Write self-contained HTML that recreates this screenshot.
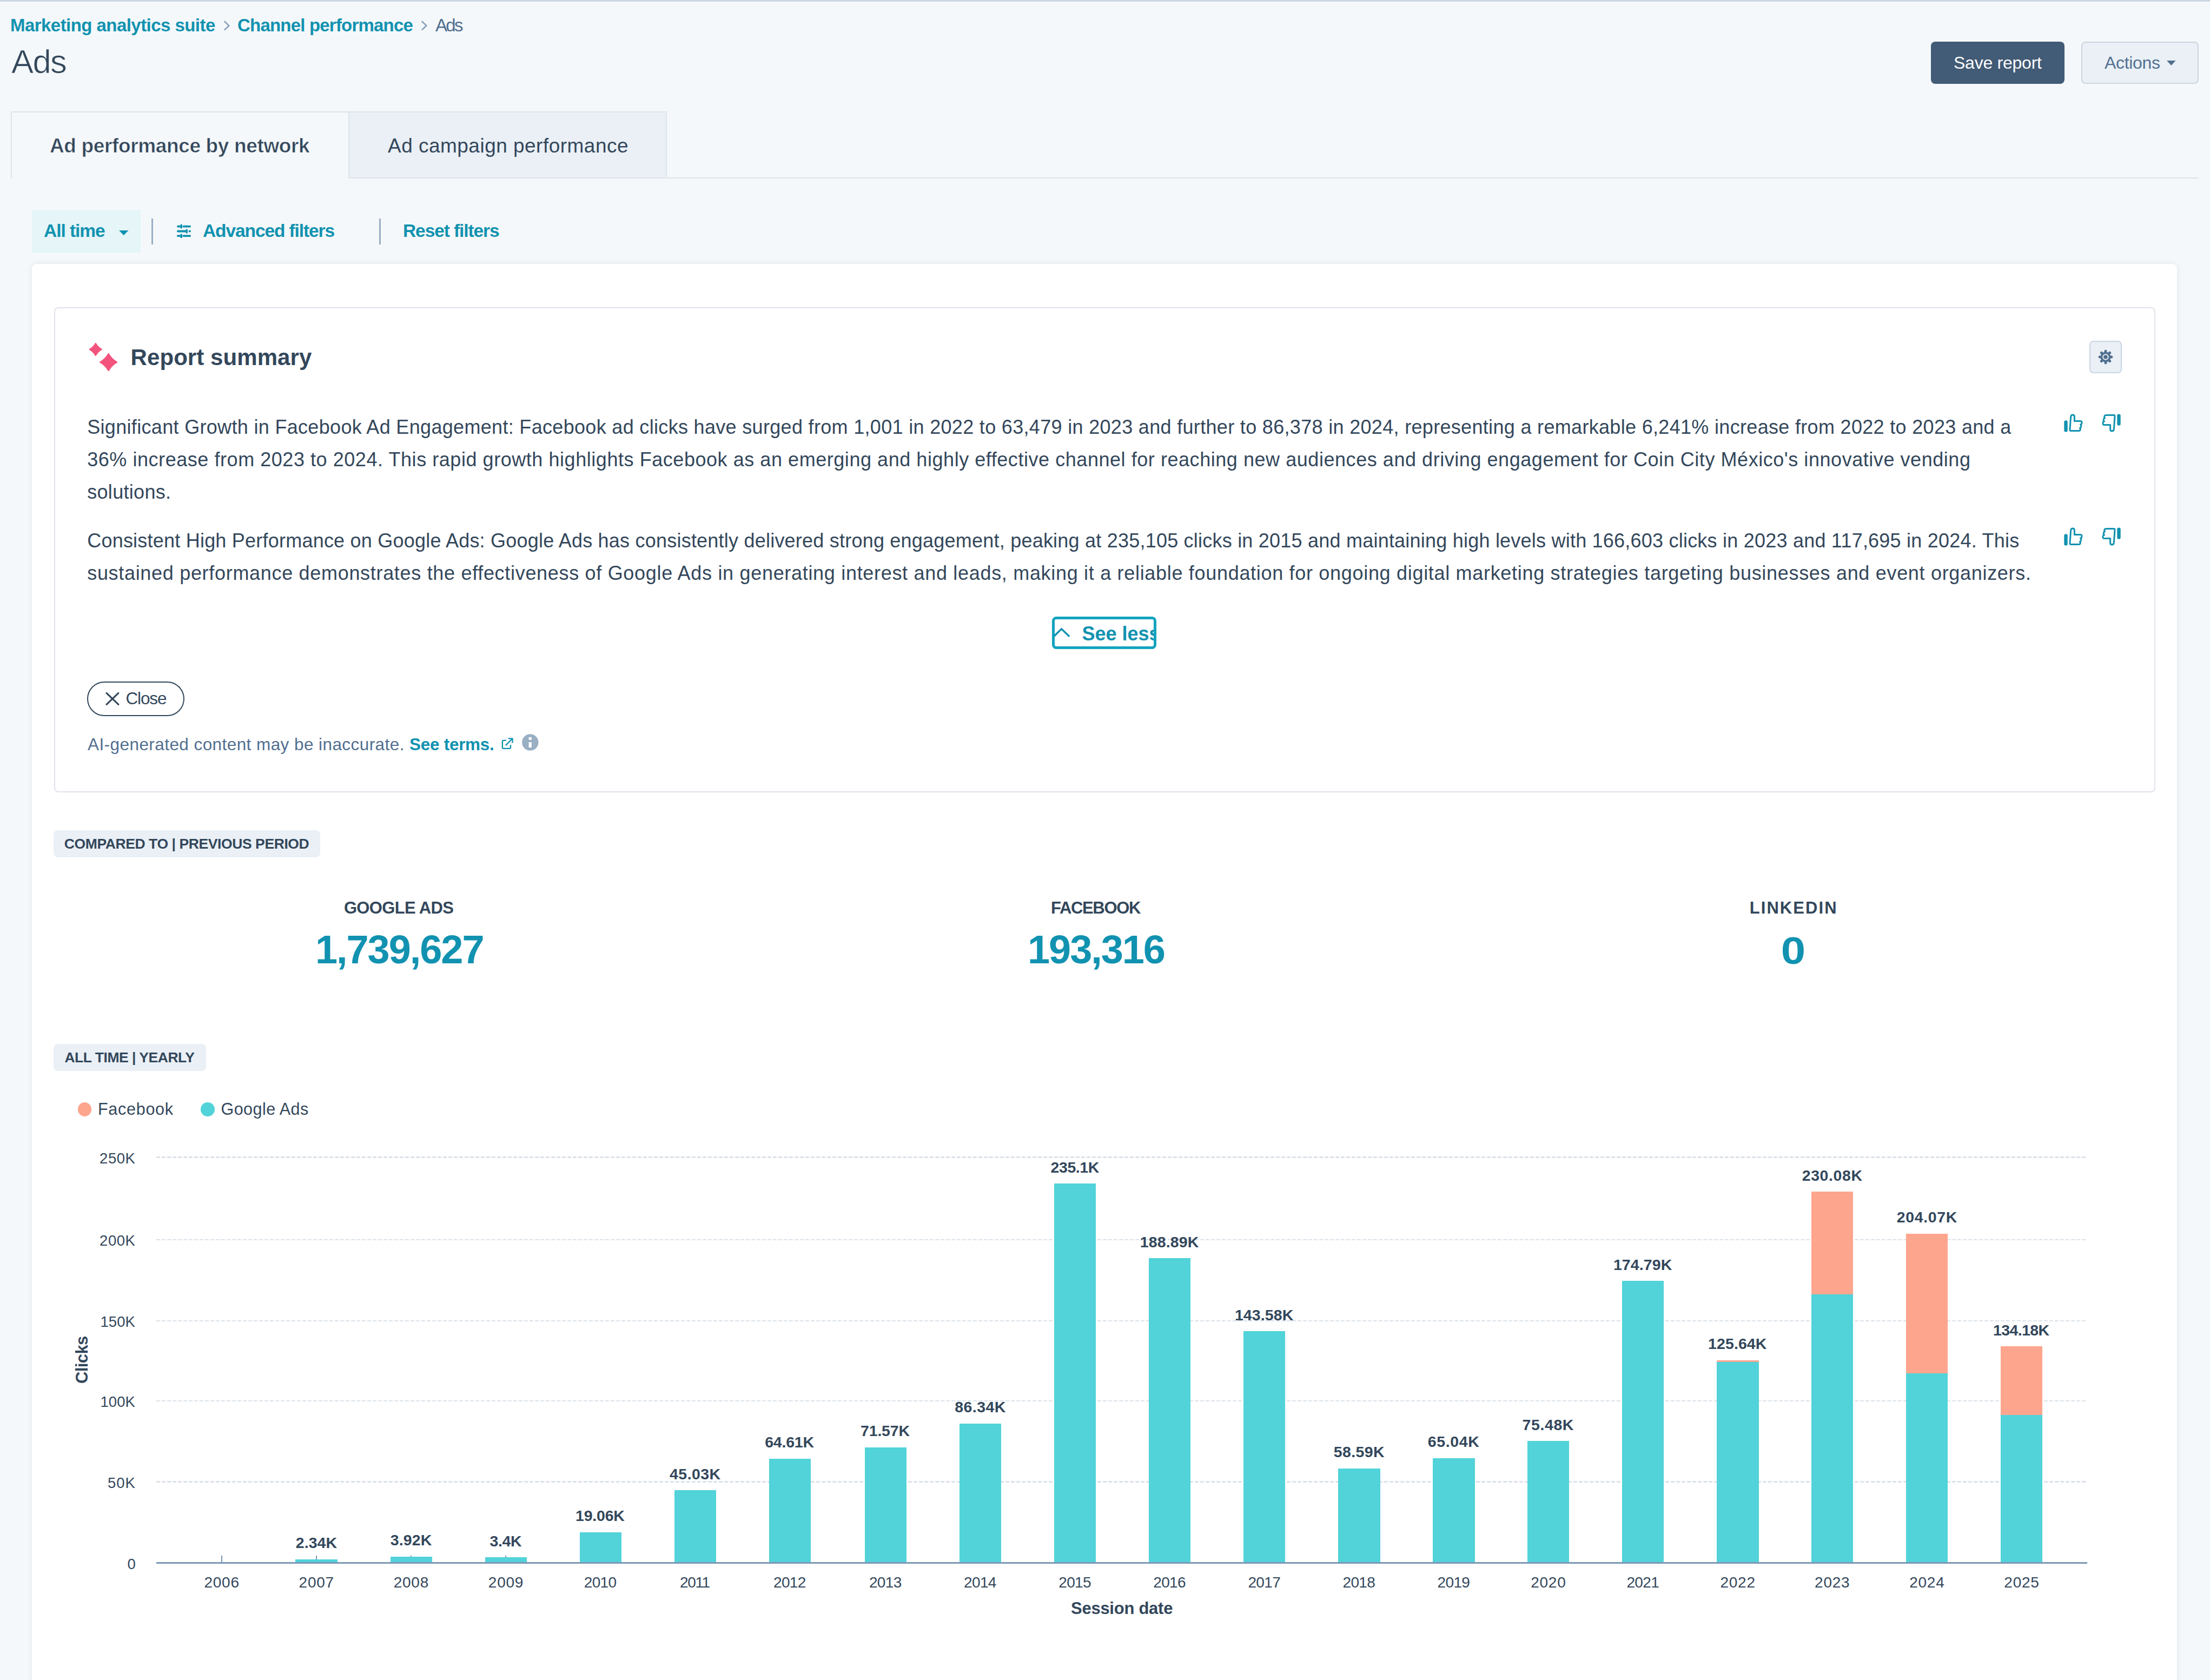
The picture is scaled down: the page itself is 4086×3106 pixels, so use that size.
<!DOCTYPE html>
<html><head><meta charset="utf-8">
<style>
html,body{margin:0;padding:0;}
body{width:4086px;height:3106px;overflow:hidden;position:relative;background:#f5f8fa;font-family:"Liberation Sans",sans-serif;}
.a{position:absolute;box-sizing:border-box;}
.t{position:absolute;white-space:nowrap;line-height:1;font-family:"Liberation Sans",sans-serif;}
.grid{position:absolute;left:289px;width:3570px;height:2.2px;background:repeating-linear-gradient(to right,#dbe2ea 0,#dbe2ea 7.2px,transparent 7.2px,transparent 10px);}
.tick{position:absolute;top:2875.5px;width:2px;height:14px;background:#7c98b6;}
.bar{position:absolute;width:77.4px;}
.g{background:#51d3d9;}
.f{background:#fea58e;}
svg{position:absolute;overflow:visible;}
@media (min-width:1990px) and (max-width:2100px){html{zoom:0.5;}}
</style></head><body>
<!-- top line -->
<div class="a" style="left:0;top:0;width:4086px;height:2.5px;background:#cbd6e2"></div>
<!-- breadcrumb chevrons -->
<svg style="left:414px;top:39px" width="11" height="17" viewBox="0 0 11 17"><polyline points="1.4,0.8 9.4,8.4 1.4,16" fill="none" stroke="#7c98b6" stroke-width="2.3" stroke-linecap="round" stroke-linejoin="miter"/></svg>
<svg style="left:779px;top:39px" width="11" height="17" viewBox="0 0 11 17"><polyline points="1.4,0.8 9.4,8.4 1.4,16" fill="none" stroke="#7c98b6" stroke-width="2.3" stroke-linecap="round" stroke-linejoin="miter"/></svg>
<!-- buttons -->
<div class="a" style="left:3570px;top:77px;width:247px;height:78px;background:#425b76;border-radius:8px"></div>
<div class="a" style="left:3848px;top:77px;width:217px;height:78px;background:#eaf0f6;border:2px solid #cbd6e2;border-radius:8px"></div>
<svg style="left:4006px;top:112px" width="17" height="9" viewBox="0 0 17 9"><polygon points="0,0 16.6,0 8.3,9" fill="#516f90"/></svg>
<!-- tabs -->
<div class="a" style="left:19.5px;top:205.5px;width:626px;height:124px;border-top:2px solid #dfe3eb;border-left:2px solid #dfe3eb"></div>
<div class="a" style="left:643.5px;top:205.5px;width:589px;height:124px;background:#eaf0f6;border:2px solid #dfe3eb"></div>
<div class="a" style="left:1231px;top:327.5px;width:2834px;height:2px;background:#dfe3eb"></div>
<!-- filter bar -->
<div class="a" style="left:59px;top:388px;width:201px;height:79px;background:#e5f5f8"></div>
<svg style="left:220px;top:426px" width="18" height="9" viewBox="0 0 18 9"><polygon points="0,0 17.5,0 8.75,9" fill="#1192b0"/></svg>
<div class="a" style="left:280px;top:404px;width:3px;height:48px;background:#99aec4"></div>
<div class="a" style="left:700.7px;top:404px;width:3px;height:48px;background:#99aec4"></div>
<svg style="left:327px;top:414px" width="27" height="27" viewBox="0 0 27 27">
 <g stroke="#1192b0" stroke-width="3.8" stroke-linecap="round" fill="none">
  <line x1="1.9" y1="4.6" x2="6" y2="4.6"/><line x1="12.5" y1="4.6" x2="24.1" y2="4.6"/>
  <line x1="1.9" y1="13.5" x2="16" y2="13.5"/><line x1="23.5" y1="13.5" x2="24.1" y2="13.5"/>
  <line x1="1.9" y1="22.2" x2="6" y2="22.2"/><line x1="12.5" y1="22.2" x2="24.1" y2="22.2"/>
 </g>
 <g fill="#1192b0"><rect x="6.6" y="0.6" width="3.4" height="8" rx="1.5"/><rect x="16.6" y="9.5" width="3.4" height="8" rx="1.5"/><rect x="6.6" y="18.2" width="3.4" height="8" rx="1.5"/></g>
</svg>
<!-- card -->
<div class="a" style="left:59px;top:488px;width:3966px;height:2700px;background:#fff;border-radius:8px;box-shadow:0 0 10px rgba(45,62,80,0.10)"></div>
<!-- summary box -->
<div class="a" style="left:99.5px;top:568px;width:3885px;height:897px;border:2px solid #dfe3eb;border-radius:8px"></div>
<!-- sparkles -->
<svg style="left:0;top:0" width="260" height="720" viewBox="0 0 260 720">
 <path d="M176.8,635.1 Q180.7,642.1 187.7,646.0 Q180.7,649.9 176.8,656.9 Q172.9,649.9 165.9,646.0 Q172.9,642.1 176.8,635.1 Z" fill="#f2547d" stroke="#f2547d" stroke-width="2.4" stroke-linejoin="round"/>
 <path d="M200.6,654.4 Q206.1,664.1 215.8,669.6 Q206.1,675.1 200.6,684.8 Q195.1,675.1 185.4,669.6 Q195.1,664.1 200.6,654.4 Z" fill="#f2547d" stroke="#f2547d" stroke-width="2.6" stroke-linejoin="round"/>
</svg>
<!-- gear -->
<div class="a" style="left:3863px;top:630px;width:60px;height:60px;background:#eaf0f6;border:2px solid #cbd6e2;border-radius:7px"></div>
<svg style="left:3867px;top:634px" width="52" height="52" viewBox="0 0 52 52">
 <g fill="#516f90" transform="translate(26,26)">
  <circle r="9.4"/>
  <rect x="-2.4" y="-13.2" width="4.8" height="7" rx="1.8"/>
  <rect x="-2.4" y="-13.2" width="4.8" height="7" rx="1.8" transform="rotate(45)"/>
  <rect x="-2.4" y="-13.2" width="4.8" height="7" rx="1.8" transform="rotate(90)"/>
  <rect x="-2.4" y="-13.2" width="4.8" height="7" rx="1.8" transform="rotate(135)"/>
  <rect x="-2.4" y="-13.2" width="4.8" height="7" rx="1.8" transform="rotate(180)"/>
  <rect x="-2.4" y="-13.2" width="4.8" height="7" rx="1.8" transform="rotate(225)"/>
  <rect x="-2.4" y="-13.2" width="4.8" height="7" rx="1.8" transform="rotate(270)"/>
  <rect x="-2.4" y="-13.2" width="4.8" height="7" rx="1.8" transform="rotate(315)"/>
  <circle r="5.8" fill="#eaf0f6"/>
  <circle r="3.8"/>
 </g>
</svg>
<!-- thumbs -->
<svg style="left:3815.5px;top:765.0px" width="35" height="34" viewBox="0 0 35 34"><g><rect x="0.3" y="12.2" width="6.4" height="21.4" rx="3.2" fill="#1192b0"/><path d="M12.5,31.5 Q10.9,31.5 11,29.3 L12.6,5.8 Q13.1,2 16.3,2 Q19.4,2 19.4,5.5 L19.4,13.5 L30.5,13.5 Q33.5,13.5 33,17 Q32.8,19.5 30.5,20 Q32.5,21 31.5,24 Q31,26 29.5,26.3 Q31,27.5 30,30 Q29.5,31.5 27.5,31.5 Z" fill="none" stroke="#1192b0" stroke-width="3" stroke-linejoin="round"/></g></svg>
<svg style="left:3885.5px;top:765.0px" width="35" height="34" viewBox="0 0 35 34"><g transform="rotate(180 17.5 17)"><rect x="0.3" y="12.2" width="6.4" height="21.4" rx="3.2" fill="#1192b0"/><path d="M12.5,31.5 Q10.9,31.5 11,29.3 L12.6,5.8 Q13.1,2 16.3,2 Q19.4,2 19.4,5.5 L19.4,13.5 L30.5,13.5 Q33.5,13.5 33,17 Q32.8,19.5 30.5,20 Q32.5,21 31.5,24 Q31,26 29.5,26.3 Q31,27.5 30,30 Q29.5,31.5 27.5,31.5 Z" fill="none" stroke="#1192b0" stroke-width="3" stroke-linejoin="round"/></g></svg>
<svg style="left:3815.5px;top:975.0px" width="35" height="34" viewBox="0 0 35 34"><g><rect x="0.3" y="12.2" width="6.4" height="21.4" rx="3.2" fill="#1192b0"/><path d="M12.5,31.5 Q10.9,31.5 11,29.3 L12.6,5.8 Q13.1,2 16.3,2 Q19.4,2 19.4,5.5 L19.4,13.5 L30.5,13.5 Q33.5,13.5 33,17 Q32.8,19.5 30.5,20 Q32.5,21 31.5,24 Q31,26 29.5,26.3 Q31,27.5 30,30 Q29.5,31.5 27.5,31.5 Z" fill="none" stroke="#1192b0" stroke-width="3" stroke-linejoin="round"/></g></svg>
<svg style="left:3885.5px;top:975.0px" width="35" height="34" viewBox="0 0 35 34"><g transform="rotate(180 17.5 17)"><rect x="0.3" y="12.2" width="6.4" height="21.4" rx="3.2" fill="#1192b0"/><path d="M12.5,31.5 Q10.9,31.5 11,29.3 L12.6,5.8 Q13.1,2 16.3,2 Q19.4,2 19.4,5.5 L19.4,13.5 L30.5,13.5 Q33.5,13.5 33,17 Q32.8,19.5 30.5,20 Q32.5,21 31.5,24 Q31,26 29.5,26.3 Q31,27.5 30,30 Q29.5,31.5 27.5,31.5 Z" fill="none" stroke="#1192b0" stroke-width="3" stroke-linejoin="round"/></g></svg>
<!-- see less -->
<div class="a" style="left:1945px;top:1140px;width:193px;height:59.5px;border:5px solid #14a3bf;border-radius:8px;overflow:hidden">
  <div class="t" style="left:50.5px;top:9px;font-size:36px;font-weight:700;color:#1192b0">See less</div>
</div>
<svg style="left:1947px;top:1159px" width="32" height="20" viewBox="0 0 32 20"><polyline points="2.5,16.5 15.5,3.8 29,16.5" fill="none" stroke="#1192b0" stroke-width="3.5" stroke-linecap="square"/></svg>
<!-- close -->
<div class="a" style="left:161px;top:1259.7px;width:180px;height:64px;border:2px solid #33475b;border-radius:32px"></div>
<svg style="left:192px;top:1277px" width="31" height="30" viewBox="0 0 31 30"><g stroke="#33475b" stroke-width="3.1" stroke-linecap="round"><line x1="5" y1="4.4" x2="26.9" y2="25.4"/><line x1="26.9" y1="4.4" x2="5" y2="25.4"/></g></svg>
<!-- external link + info -->
<svg style="left:925px;top:1363px" width="26" height="26" viewBox="0 0 26 26"><g fill="none" stroke="#1192b0" stroke-width="2.3" stroke-linecap="butt" stroke-linejoin="round"><path d="M10.8,5.9 H6 Q3.9,5.9 3.9,8 V18.7 Q3.9,20.8 6,20.8 H16.9 Q19,20.8 19,18.7 V14.3"/><path d="M14.6,2.4 H22.5 V10.4"/><path d="M9.8,15.1 L22.2,2.7"/></g></svg>
<svg style="left:965px;top:1357px" width="31" height="31" viewBox="0 0 31 31"><circle cx="15.3" cy="15.4" r="15.2" fill="#99afc4"/><rect x="12.6" y="5.9" width="5.2" height="5" fill="#fff"/><rect x="12.6" y="15.1" width="5.2" height="10" fill="#fff"/></svg>
<!-- badges -->
<div class="a" style="left:99px;top:1535px;width:493px;height:50px;background:#eaf0f6;border-radius:8px"></div>
<div class="a" style="left:99px;top:1930px;width:282px;height:50px;background:#eaf0f6;border-radius:8px"></div>
<!-- legend -->
<div class="a" style="left:143.8px;top:2038px;width:25.5px;height:25.5px;border-radius:50%;background:#fea58e"></div>
<div class="a" style="left:371px;top:2038px;width:25.5px;height:25.5px;border-radius:50%;background:#51d3d9"></div>
<!-- chart -->
<div class="grid" style="top:2138.4px"></div>
<div class="grid" style="top:2290.7px"></div>
<div class="grid" style="top:2440.7px"></div>
<div class="grid" style="top:2588.5px"></div>
<div class="grid" style="top:2738.4px"></div>
<div class="tick" style="left:408.9px"></div>
<div class="tick" style="left:584.1px"></div>
<div class="tick" style="left:759.2px"></div>
<div class="tick" style="left:934.3px"></div>
<div class="tick" style="left:1109.2px"></div>
<div class="tick" style="left:1284.3px"></div>
<div class="tick" style="left:1459.4px"></div>
<div class="tick" style="left:1636.3px"></div>
<div class="tick" style="left:1811.5px"></div>
<div class="tick" style="left:1986.7px"></div>
<div class="tick" style="left:2161.7px"></div>
<div class="tick" style="left:2336.8px"></div>
<div class="tick" style="left:2511.9px"></div>
<div class="tick" style="left:2687.0px"></div>
<div class="tick" style="left:2861.7px"></div>
<div class="tick" style="left:3036.8px"></div>
<div class="tick" style="left:3211.9px"></div>
<div class="tick" style="left:3386.6px"></div>
<div class="tick" style="left:3561.7px"></div>
<div class="tick" style="left:3736.8px"></div>
<div class="bar g" style="left:546.4px;top:2882.5px;height:7.0px"></div>
<div class="bar g" style="left:721.5px;top:2877.8px;height:11.7px"></div>
<div class="bar g" style="left:896.6px;top:2879.4px;height:10.1px"></div>
<div class="bar g" style="left:1071.5px;top:2832.7px;height:56.8px"></div>
<div class="bar g" style="left:1246.6px;top:2755.2px;height:134.3px"></div>
<div class="bar g" style="left:1421.7px;top:2696.8px;height:192.7px"></div>
<div class="bar g" style="left:1598.6px;top:2676.1px;height:213.4px"></div>
<div class="bar g" style="left:1773.8px;top:2632.0px;height:257.5px"></div>
<div class="bar g" style="left:1949.0px;top:2188.4px;height:701.1px"></div>
<div class="bar g" style="left:2124.0px;top:2326.2px;height:563.3px"></div>
<div class="bar g" style="left:2299.1px;top:2461.3px;height:428.2px"></div>
<div class="bar g" style="left:2474.2px;top:2714.8px;height:174.7px"></div>
<div class="bar g" style="left:2649.3px;top:2695.6px;height:193.9px"></div>
<div class="bar g" style="left:2824.0px;top:2664.4px;height:225.1px"></div>
<div class="bar g" style="left:2999.1px;top:2368.3px;height:521.2px"></div>
<div class="bar g" style="left:3174.2px;top:2517.8px;height:371.7px"></div>
<div class="bar f" style="left:3174.2px;top:2514.8px;height:3.0px"></div>
<div class="bar g" style="left:3348.9px;top:2392.7px;height:496.8px"></div>
<div class="bar f" style="left:3348.9px;top:2203.4px;height:189.3px"></div>
<div class="bar g" style="left:3524.0px;top:2538.5px;height:351.0px"></div>
<div class="bar f" style="left:3524.0px;top:2281.0px;height:257.6px"></div>
<div class="bar g" style="left:3699.1px;top:2615.6px;height:273.9px"></div>
<div class="bar f" style="left:3699.1px;top:2489.4px;height:126.2px"></div>
<div class="a" style="left:289px;top:2888px;width:3570px;height:3px;background:#7c98b6"></div>
<div class="t" style="left:136.0px;top:2557.6px;font-size:31px;font-weight:700;color:#33475b;transform:rotate(-90deg);transform-origin:0 0;letter-spacing:-0.60px">Clicks</div>
<div class="t" id="t0" style="left:19.0px;top:29.8px;font-size:33px;font-weight:700;color:#1192b0;letter-spacing:-0.55px;">Marketing analytics suite</div>
<div class="t" id="t1" style="left:439.0px;top:29.8px;font-size:33px;font-weight:700;color:#1192b0;letter-spacing:-0.80px;">Channel performance</div>
<div class="t" id="t2" style="left:805.0px;top:29.8px;font-size:33px;font-weight:400;color:#516f90;letter-spacing:-2.68px;">Ads</div>
<div class="t" id="t3" style="left:21.0px;top:82.9px;font-size:61.5px;font-weight:400;color:#33475b;letter-spacing:-1.62px;-webkit-text-stroke:0.7px #f5f8fa;">Ads</div>
<div class="t" id="t4" style="left:3612.0px;top:99.9px;font-size:32px;font-weight:400;color:#ffffff;letter-spacing:-0.25px;">Save report</div>
<div class="t" id="t5" style="left:3891.0px;top:99.9px;font-size:32px;font-weight:400;color:#516f90;letter-spacing:-0.33px;">Actions</div>
<div class="t" id="t6" style="left:92.0px;top:250.7px;font-size:37px;font-weight:700;color:#33475b;letter-spacing:-0.36px;-webkit-text-stroke:0.6px #f5f8fa;">Ad performance by network</div>
<div class="t" id="t7" style="left:717.0px;top:250.7px;font-size:37px;font-weight:400;color:#33475b;letter-spacing:0.48px;">Ad campaign performance</div>
<div class="t" id="t8" style="left:81.0px;top:410.2px;font-size:33.5px;font-weight:700;color:#1192b0;letter-spacing:-1.05px;">All time</div>
<div class="t" id="t9" style="left:375.0px;top:410.2px;font-size:33.5px;font-weight:700;color:#1192b0;letter-spacing:-1.10px;">Advanced filters</div>
<div class="t" id="t10" style="left:745.0px;top:410.2px;font-size:33.5px;font-weight:700;color:#1192b0;letter-spacing:-1.09px;">Reset filters</div>
<div class="t" id="t11" style="left:241.6px;top:639.9px;font-size:42px;font-weight:700;color:#33475b;letter-spacing:0.07px;">Report summary</div>
<div class="t" id="t12" style="left:161.2px;top:772.3px;font-size:36px;font-weight:400;color:#33475b;letter-spacing:0.32px;">Significant Growth in Facebook Ad Engagement: Facebook ad clicks have surged from 1,001 in 2022 to 63,479 in 2023 and further to 86,378 in 2024, representing a remarkable 6,241% increase from 2022 to 2023 and a</div>
<div class="t" id="t13" style="left:161.2px;top:832.1px;font-size:36px;font-weight:400;color:#33475b;letter-spacing:0.55px;">36% increase from 2023 to 2024. This rapid growth highlights Facebook as an emerging and highly effective channel for reaching new audiences and driving engagement for Coin City México&#x27;s innovative vending</div>
<div class="t" id="t14" style="left:161.2px;top:891.9px;font-size:36px;font-weight:400;color:#33475b;letter-spacing:0.31px;">solutions.</div>
<div class="t" id="t15" style="left:161.2px;top:982.3px;font-size:36px;font-weight:400;color:#33475b;letter-spacing:0.22px;">Consistent High Performance on Google Ads: Google Ads has consistently delivered strong engagement, peaking at 235,105 clicks in 2015 and maintaining high levels with 166,603 clicks in 2023 and 117,695 in 2024. This</div>
<div class="t" id="t16" style="left:161.2px;top:1041.8px;font-size:36px;font-weight:400;color:#33475b;letter-spacing:0.69px;">sustained performance demonstrates the effectiveness of Google Ads in generating interest and leads, making it a reliable foundation for ongoing digital marketing strategies targeting businesses and event organizers.</div>
<div class="t" id="t17" style="left:232.5px;top:1276.0px;font-size:31.5px;font-weight:400;color:#33475b;letter-spacing:-1.14px;">Close</div>
<div class="t" id="t18" style="left:162.0px;top:1360.6px;font-size:31.5px;font-weight:400;color:#516f90;letter-spacing:0.43px;">AI-generated content may be inaccurate.</div>
<div class="t" id="t19" style="left:757.0px;top:1360.6px;font-size:31.5px;font-weight:700;color:#1192b0;letter-spacing:-0.28px;">See terms.</div>
<div class="t" id="t20" style="left:118.8px;top:1546.6px;font-size:26.5px;font-weight:700;color:#33475b;letter-spacing:-0.41px;">COMPARED TO | PREVIOUS PERIOD</div>
<div class="t" id="t21" style="left:635.9px;top:1662.8px;font-size:31px;font-weight:700;color:#33475b;letter-spacing:-0.65px;">GOOGLE ADS</div>
<div class="t" id="t22" style="left:582.9px;top:1719.3px;font-size:74px;font-weight:700;color:#1192b0;letter-spacing:-2.07px;">1,739,627</div>
<div class="t" id="t23" style="left:1943.0px;top:1662.8px;font-size:31px;font-weight:700;color:#33475b;letter-spacing:-1.33px;">FACEBOOK</div>
<div class="t" id="t24" style="left:1900.0px;top:1719.3px;font-size:74px;font-weight:700;color:#1192b0;letter-spacing:-2.09px;">193,316</div>
<div class="t" id="t25" style="left:3234.7px;top:1662.8px;font-size:31px;font-weight:700;color:#33475b;letter-spacing:2.07px;">LINKEDIN</div>
<div class="t" id="t26" style="left:3295.9px;top:1722.7px;font-size:70px;font-weight:700;color:#1192b0;transform:scaleX(1.166);transform-origin:19.5px 0;">0</div>
<div class="t" id="t27" style="left:119.4px;top:1942.0px;font-size:26.5px;font-weight:700;color:#33475b;letter-spacing:-0.49px;">ALL TIME | YEARLY</div>
<div class="t" id="t28" style="left:181.0px;top:2035.0px;font-size:30.5px;font-weight:400;color:#33475b;letter-spacing:0.73px;">Facebook</div>
<div class="t" id="t29" style="left:408.5px;top:2035.0px;font-size:30.5px;font-weight:400;color:#33475b;letter-spacing:0.45px;">Google Ads</div>
<div class="t" id="t30" style="left:184.1px;top:2127.7px;font-size:27.5px;font-weight:400;color:#33475b;letter-spacing:0.54px;">250K</div>
<div class="t" id="t31" style="left:184.1px;top:2280.0px;font-size:27.5px;font-weight:400;color:#33475b;letter-spacing:0.54px;">200K</div>
<div class="t" id="t32" style="left:185.5px;top:2430.0px;font-size:27.5px;font-weight:400;color:#33475b;letter-spacing:0.07px;">150K</div>
<div class="t" id="t33" style="left:185.5px;top:2577.8px;font-size:27.5px;font-weight:400;color:#33475b;letter-spacing:0.07px;">100K</div>
<div class="t" id="t34" style="left:199.1px;top:2727.7px;font-size:27.5px;font-weight:400;color:#33475b;letter-spacing:0.96px;">50K</div>
<div class="t" id="t35" style="left:235.6px;top:2877.7px;font-size:27.5px;font-weight:400;color:#33475b;">0</div>
<div class="t" id="t36" style="left:377.4px;top:2912.3px;font-size:28px;font-weight:400;color:#33475b;letter-spacing:0.76px;">2006</div>
<div class="t" id="t37" style="left:552.6px;top:2912.3px;font-size:28px;font-weight:400;color:#33475b;letter-spacing:0.76px;">2007</div>
<div class="t" id="t38" style="left:546.7px;top:2837.9px;font-size:28.5px;font-weight:700;color:#33475b;letter-spacing:0.10px;">2.34K</div>
<div class="t" id="t39" style="left:727.7px;top:2912.3px;font-size:28px;font-weight:400;color:#33475b;letter-spacing:0.76px;">2008</div>
<div class="t" id="t40" style="left:721.8px;top:2833.2px;font-size:28.5px;font-weight:700;color:#33475b;letter-spacing:0.10px;">3.92K</div>
<div class="t" id="t41" style="left:902.8px;top:2912.3px;font-size:28px;font-weight:400;color:#33475b;letter-spacing:0.76px;">2009</div>
<div class="t" id="t42" style="left:905.6px;top:2834.7px;font-size:28.5px;font-weight:700;color:#33475b;letter-spacing:-0.41px;">3.4K</div>
<div class="t" id="t43" style="left:1079.8px;top:2912.3px;font-size:28px;font-weight:400;color:#33475b;letter-spacing:-0.66px;">2010</div>
<div class="t" id="t44" style="left:1064.0px;top:2788.0px;font-size:28.5px;font-weight:700;color:#33475b;letter-spacing:-0.20px;">19.06K</div>
<div class="t" id="t45" style="left:1257.0px;top:2912.3px;font-size:28px;font-weight:400;color:#33475b;letter-spacing:-1.38px;">2011</div>
<div class="t" id="t46" style="left:1238.1px;top:2710.6px;font-size:28.5px;font-weight:700;color:#33475b;letter-spacing:0.42px;">45.03K</div>
<div class="t" id="t47" style="left:1430.0px;top:2912.3px;font-size:28px;font-weight:400;color:#33475b;letter-spacing:-0.66px;">2012</div>
<div class="t" id="t48" style="left:1414.2px;top:2652.2px;font-size:28.5px;font-weight:700;color:#33475b;letter-spacing:-0.20px;">64.61K</div>
<div class="t" id="t49" style="left:1606.9px;top:2912.3px;font-size:28px;font-weight:400;color:#33475b;letter-spacing:-0.66px;">2013</div>
<div class="t" id="t50" style="left:1591.1px;top:2631.4px;font-size:28.5px;font-weight:700;color:#33475b;letter-spacing:-0.20px;">71.57K</div>
<div class="t" id="t51" style="left:1782.1px;top:2912.3px;font-size:28px;font-weight:400;color:#33475b;letter-spacing:-0.66px;">2014</div>
<div class="t" id="t52" style="left:1765.3px;top:2587.4px;font-size:28.5px;font-weight:700;color:#33475b;letter-spacing:0.42px;">86.34K</div>
<div class="t" id="t53" style="left:1957.3px;top:2912.3px;font-size:28px;font-weight:400;color:#33475b;letter-spacing:-0.66px;">2015</div>
<div class="t" id="t54" style="left:1942.5px;top:2143.8px;font-size:28.5px;font-weight:700;color:#33475b;letter-spacing:-0.40px;">235.1K</div>
<div class="t" id="t55" style="left:2132.3px;top:2912.3px;font-size:28px;font-weight:400;color:#33475b;letter-spacing:-0.66px;">2016</div>
<div class="t" id="t56" style="left:2107.8px;top:2281.6px;font-size:28.5px;font-weight:700;color:#33475b;letter-spacing:0.11px;">188.89K</div>
<div class="t" id="t57" style="left:2307.4px;top:2912.3px;font-size:28px;font-weight:400;color:#33475b;letter-spacing:-0.66px;">2017</div>
<div class="t" id="t58" style="left:2282.9px;top:2416.7px;font-size:28.5px;font-weight:700;color:#33475b;letter-spacing:0.11px;">143.58K</div>
<div class="t" id="t59" style="left:2482.5px;top:2912.3px;font-size:28px;font-weight:400;color:#33475b;letter-spacing:-0.66px;">2018</div>
<div class="t" id="t60" style="left:2465.7px;top:2670.2px;font-size:28.5px;font-weight:700;color:#33475b;letter-spacing:0.42px;">58.59K</div>
<div class="t" id="t61" style="left:2657.6px;top:2912.3px;font-size:28px;font-weight:400;color:#33475b;letter-spacing:-0.66px;">2019</div>
<div class="t" id="t62" style="left:2639.8px;top:2650.9px;font-size:28.5px;font-weight:700;color:#33475b;letter-spacing:0.61px;">65.04K</div>
<div class="t" id="t63" style="left:2830.2px;top:2912.3px;font-size:28px;font-weight:400;color:#33475b;letter-spacing:0.76px;">2020</div>
<div class="t" id="t64" style="left:2814.5px;top:2619.8px;font-size:28.5px;font-weight:700;color:#33475b;letter-spacing:0.61px;">75.48K</div>
<div class="t" id="t65" style="left:3007.4px;top:2912.3px;font-size:28px;font-weight:400;color:#33475b;letter-spacing:-0.66px;">2021</div>
<div class="t" id="t66" style="left:2982.9px;top:2323.6px;font-size:28.5px;font-weight:700;color:#33475b;letter-spacing:0.11px;">174.79K</div>
<div class="t" id="t67" style="left:3180.4px;top:2912.3px;font-size:28px;font-weight:400;color:#33475b;letter-spacing:0.76px;">2022</div>
<div class="t" id="t68" style="left:3158.0px;top:2470.2px;font-size:28.5px;font-weight:700;color:#33475b;letter-spacing:0.11px;">125.64K</div>
<div class="t" id="t69" style="left:3355.1px;top:2912.3px;font-size:28px;font-weight:400;color:#33475b;letter-spacing:0.76px;">2023</div>
<div class="t" id="t70" style="left:3331.7px;top:2158.8px;font-size:28.5px;font-weight:700;color:#33475b;letter-spacing:0.61px;">230.08K</div>
<div class="t" id="t71" style="left:3530.2px;top:2912.3px;font-size:28px;font-weight:400;color:#33475b;letter-spacing:0.76px;">2024</div>
<div class="t" id="t72" style="left:3506.8px;top:2236.3px;font-size:28.5px;font-weight:700;color:#33475b;letter-spacing:0.61px;">204.07K</div>
<div class="t" id="t73" style="left:3705.3px;top:2912.3px;font-size:28px;font-weight:400;color:#33475b;letter-spacing:0.76px;">2025</div>
<div class="t" id="t74" style="left:3684.9px;top:2444.7px;font-size:28.5px;font-weight:700;color:#33475b;letter-spacing:-0.58px;">134.18K</div>
<div class="t" id="t75" style="left:1980.0px;top:2958.4px;font-size:31px;font-weight:700;color:#33475b;letter-spacing:-0.26px;">Session date</div>
</body></html>
